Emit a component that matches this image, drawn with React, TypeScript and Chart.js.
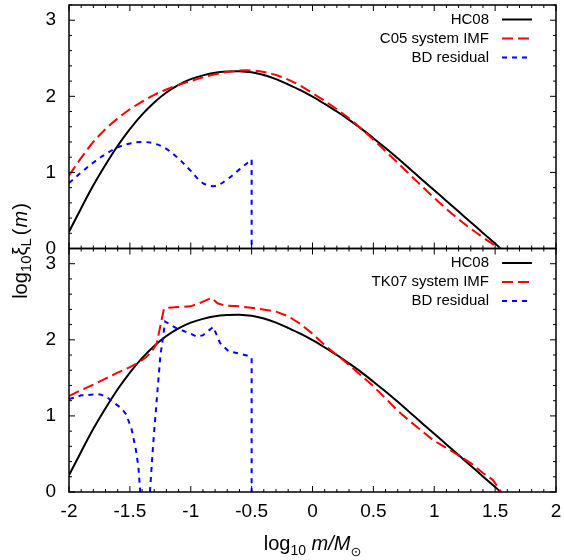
import React, { useEffect, useRef } from "react";
import { Chart, registerables } from "chart.js";

Chart.register(...registerables);

// ---------- data ----------
const hcX = [-2, -1.9, -1.8, -1.7, -1.6, -1.5, -1.4, -1.3, -1.2, -1.1, -1.0, -0.9, -0.8, -0.7, -0.6, -0.5, -0.4, -0.3, -0.2, -0.1, 0, 0.1, 0.2, 0.3, 0.4, 0.5, 0.6, 0.7, 0.8, 0.9, 1.0, 1.1, 1.2, 1.3, 1.4, 1.5, 1.545];
const hcY = [0.22, 0.53, 0.83, 1.10, 1.35, 1.57, 1.76, 1.92, 2.05, 2.15, 2.225, 2.275, 2.31, 2.325, 2.33, 2.315, 2.28, 2.225, 2.155, 2.08, 1.995, 1.90, 1.80, 1.69, 1.575, 1.45, 1.32, 1.185, 1.045, 0.905, 0.765, 0.625, 0.485, 0.345, 0.205, 0.065, 0];

const c05X = [-2, -1.9, -1.8, -1.7, -1.6, -1.5, -1.4, -1.3, -1.2, -1.1, -1.0, -0.9, -0.8, -0.7, -0.6, -0.5, -0.4, -0.3, -0.2, -0.1, 0, 0.1, 0.2, 0.3, 0.4, 0.5, 0.6, 0.7, 0.8, 0.9, 1.0, 1.1, 1.2, 1.3, 1.4, 1.5, 1.545];
const c05Y = [0.96, 1.19, 1.40, 1.57, 1.71, 1.83, 1.93, 2.02, 2.09, 2.15, 2.20, 2.25, 2.29, 2.32, 2.34, 2.34, 2.32, 2.28, 2.22, 2.14, 2.04, 1.94, 1.83, 1.71, 1.575, 1.43, 1.28, 1.125, 0.97, 0.815, 0.665, 0.52, 0.385, 0.26, 0.145, 0.04, 0];

const bdTopX = [-2, -1.9, -1.8, -1.7, -1.6, -1.5, -1.4, -1.3, -1.2, -1.1, -1.0, -0.9, -0.8, -0.7, -0.6, -0.5, -0.5, -0.5];
const bdTopY = [0.86, 1.0, 1.13, 1.24, 1.33, 1.38, 1.40, 1.38, 1.31, 1.18, 1.02, 0.86, 0.82, 0.91, 1.04, 1.17, 1.17, 0];

const tk07X = [-2, -1.9, -1.8, -1.7, -1.6, -1.5, -1.42, -1.36, -1.31, -1.28, -1.22, -1.19, -1.1, -1.0, -0.93, -0.83, -0.78, -0.72, -0.6, -0.45, -0.3, -0.2, -0.1, 0, 0.1, 0.2, 0.3, 0.4, 0.5, 0.6, 0.7, 0.8, 0.9, 1.0, 1.1, 1.2, 1.3, 1.4, 1.48, 1.55];
const tk07Y = [1.26, 1.34, 1.41, 1.49, 1.57, 1.64, 1.71, 1.78, 1.87, 1.95, 2.41, 2.42, 2.43, 2.44, 2.48, 2.55, 2.48, 2.45, 2.44, 2.41, 2.37, 2.31, 2.21, 2.08, 1.93, 1.80, 1.67, 1.53, 1.39, 1.23, 1.07, 0.93, 0.80, 0.67, 0.58, 0.48, 0.38, 0.25, 0.16, 0];

const bdBotX = [-2, -1.9, -1.8, -1.74, -1.69, -1.62, -1.57, -1.53, -1.485, -1.45, -1.43, -1.415, -1.375, -1.335, -1.31, -1.28, -1.25, -1.21, -1.115, -1.0, -0.95, -0.9, -0.815, -0.76, -0.69, -0.6, -0.51, -0.5, -0.5];
const bdBotY = [1.22, 1.27, 1.28, 1.28, 1.25, 1.16, 1.10, 1.02, 0.82, 0.55, 0.33, 0, null, 0, 0.6, 1.2, 1.78, 2.24, 2.15, 2.08, 2.04, 2.06, 2.17, 1.96, 1.85, 1.82, 1.78, 1.76, 0];

const xTicks = [-2, -1.5, -1, -0.5, 0, 0.5, 1, 1.5, 2];
const yTicks = [0, 1, 2, 3];
const topLegend = ["HC08", "C05 system IMF", "BD residual"];
const botLegend = ["HC08", "TK07 system IMF", "BD residual"];

// ---------- styles ----------
const FONT = "'Liberation Sans', Arial, Helvetica, sans-serif";
const BLACK = "#000000";
const RED = "#ff0000";
const BLUE = "#0000ff";
const RED_DASH = [11, 5];
const BLUE_DASH = [5, 5];

const pts = (xs: number[], ys: (number | null)[]) => xs.map((x, i) => ({ x, y: ys[i] }));

type Piece = { t: string; f: string; dy: number; gap?: number };

const decor = {
  id: "decor",
  afterDraw(chart: any) {
    const ctx = chart.ctx as CanvasRenderingContext2D;
    const xs = chart.scales.x;
    const L = chart.chartArea.left;
    const R = chart.chartArea.right;
    const panels = [
      { ys: chart.scales.yTop, legend: topLegend },
      { ys: chart.scales.yBot, legend: botLegend },
    ];
    ctx.save();
    for (const p of panels) {
      const T = p.ys.top;
      const B = p.ys.bottom;
      ctx.strokeStyle = BLACK;
      ctx.lineWidth = 1;
      ctx.setLineDash([]);
      ctx.beginPath();
      for (let i = -20; i <= 20; i++) {
        const px = xs.getPixelForValue(i / 10);
        const len = i % 5 === 0 ? 6 : 3;
        ctx.moveTo(px, B);
        ctx.lineTo(px, B - len);
        ctx.moveTo(px, T);
        ctx.lineTo(px, T + len);
      }
      for (let i = 0; i <= 16; i++) {
        const py = p.ys.getPixelForValue(i / 5);
        const len = i % 5 === 0 ? 6 : 3;
        ctx.moveTo(L, py);
        ctx.lineTo(L + len, py);
        ctx.moveTo(R, py);
        ctx.lineTo(R - len, py);
      }
      ctx.stroke();
      ctx.lineWidth = 1.5;
      ctx.strokeRect(L, T, R - L, B - T);

      // legend
      const styles = [
        { c: BLACK, d: [] as number[] },
        { c: RED, d: RED_DASH },
        { c: BLUE, d: BLUE_DASH },
      ];
      ctx.font = `15px ${FONT}`;
      ctx.textAlign = "right";
      ctx.textBaseline = "middle";
      p.legend.forEach((label, k) => {
        const y = T + 14.5 + k * 19;
        ctx.fillStyle = BLACK;
        ctx.fillText(label, R - 67, y);
        ctx.strokeStyle = styles[k].c;
        ctx.lineWidth = 2;
        ctx.setLineDash(styles[k].d);
        ctx.beginPath();
        ctx.moveTo(R - 54, y);
        ctx.lineTo(R - 24, y);
        ctx.stroke();
      });
      ctx.setLineDash([]);
    }

    const drawPieces = (pieces: Piece[], cx: number, baseY: number) => {
      let total = 0;
      for (const pc of pieces) {
        ctx.font = pc.f;
        total += ctx.measureText(pc.t).width + (pc.gap || 0);
      }
      let x = cx - total / 2;
      ctx.textAlign = "left";
      ctx.textBaseline = "alphabetic";
      ctx.fillStyle = BLACK;
      for (const pc of pieces) {
        ctx.font = pc.f;
        ctx.fillText(pc.t, x, baseY + pc.dy);
        x += ctx.measureText(pc.t).width + (pc.gap || 0);
      }
    };
    // x-axis title: log10 m/M⊙
    drawPieces(
      [
        { t: "log", f: `20px ${FONT}`, dy: 0 },
        { t: "10", f: `14px ${FONT}`, dy: 5 },
        { t: " ", f: `20px ${FONT}`, dy: 0 },
        { t: "m/M", f: `italic 20px ${FONT}`, dy: 0 },
        { t: "\u2299", f: `13px 'DejaVu Sans', ${FONT}`, dy: 6 },
      ],
      (L + R) / 2,
      550
    );

    // y-axis title: log10 ξL(m), rotated
    ctx.save();
    ctx.translate(27, 251);
    ctx.rotate(-Math.PI / 2);
    drawPieces(
      [
        { t: "log", f: `20px ${FONT}`, dy: 0 },
        { t: "10", f: `15px ${FONT}`, dy: 4 },
        { t: "\u03be", f: `20px ${FONT}`, dy: 0 },
        { t: "L", f: `15px ${FONT}`, dy: 4, gap: 3 },
        { t: "(", f: `20px ${FONT}`, dy: 0, gap: 1 },
        { t: "m", f: `italic 20px ${FONT}`, dy: 0, gap: 1 },
        { t: ")", f: `20px ${FONT}`, dy: 0 },
      ],
      0,
      0
    );
    ctx.restore();
    ctx.restore();
  },
};

export default function App() {
  const ref = useRef<HTMLCanvasElement>(null);
  useEffect(() => {
    const tickFont = { family: FONT, size: 19 };
    const yScale = (weight: number) => ({
      type: "linear" as const,
      position: "left" as const,
      stack: "panels",
      stackWeight: 1,
      weight,
      offset: false,
      min: 0,
      max: 3.2,
      grid: { display: false, drawTicks: false },
      border: { display: false },
      afterBuildTicks: (s: any) => {
        s.ticks = yTicks.map((v) => ({ value: v }));
      },
      afterFit: (s: any) => {
        s.width = 69;
        s.paddingTop = 0;
        s.paddingBottom = 0;
        s.paddingLeft = 0;
        s.paddingRight = 0;
      },
      ticks: { font: tickFont, color: BLACK, padding: 13, callback: (v: any) => String(v) },
    });
    const line = (data: any[], axis: string, color: string, dash: number[], tension: number) => ({
      data,
      yAxisID: axis,
      xAxisID: "x",
      borderColor: color,
      borderWidth: 2,
      borderDash: dash,
      tension,
      pointRadius: 0,
      fill: false,
      spanGaps: false,
    });
    const chart = new Chart(ref.current as HTMLCanvasElement, {
      type: "line",
      data: {
        datasets: [
          line(pts(bdTopX, bdTopY), "yTop", BLUE, BLUE_DASH, 0.35),
          line(pts(c05X, c05Y), "yTop", RED, RED_DASH, 0.35),
          line(pts(hcX, hcY), "yTop", BLACK, [], 0.35),
          line(pts(bdBotX, bdBotY), "yBot", BLUE, BLUE_DASH, 0),
          line(pts(tk07X, tk07Y), "yBot", RED, RED_DASH, 0),
          line(pts(hcX, hcY), "yBot", BLACK, [], 0.35),
        ] as any,
      },
      options: {
        animation: false,
        responsive: false,
        devicePixelRatio: 1,
        layout: { padding: { top: 5, right: 8, left: 0, bottom: 0 } },
        plugins: { legend: { display: false }, tooltip: { enabled: false }, title: { display: false } },
        elements: { point: { radius: 0 } },
        scales: {
          x: {
            type: "linear",
            min: -2,
            max: 2,
            grid: { display: false, drawTicks: false },
            border: { display: false },
            afterBuildTicks: (s: any) => {
              s.ticks = xTicks.map((v) => ({ value: v }));
            },
            afterFit: (s: any) => {
              s.height = 68;
              s.paddingLeft = 0;
              s.paddingRight = 0;
              s.paddingTop = 0;
              s.paddingBottom = 0;
            },
            ticks: {
              font: tickFont,
              color: BLACK,
              padding: 8,
              maxRotation: 0,
              autoSkip: false,
              callback: (v: any) => String(v),
            },
          },
          yTop: yScale(2),
          yBot: yScale(1),
        } as any,
      },
      plugins: [decor],
    });
    return () => chart.destroy();
  }, []);
  return (
    <div style={{ position: "absolute", left: 0, top: 0, width: 564, height: 560 }}>
      <canvas ref={ref} width={564} height={560} style={{ display: "block" }} />
    </div>
  );
}
